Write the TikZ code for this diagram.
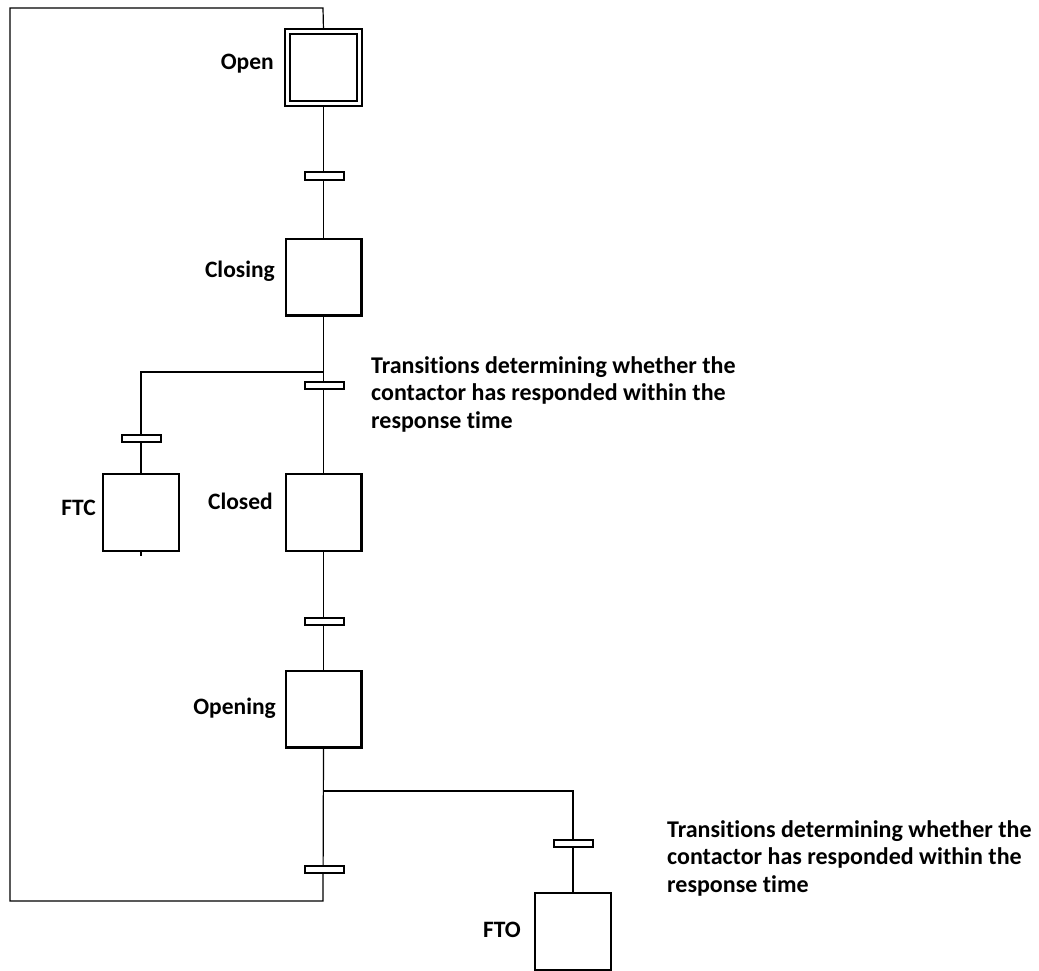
\documentclass[tikz,border=0pt]{standalone}
\usepackage{fontspec}
\setmainfont{Carlito}[Ligatures=NoCommon]
\begin{document}
\begin{tikzpicture}[x=1pt,y=-1pt,
  stepbox/.style={draw, line width=2.2pt, minimum width=75.8pt, minimum height=76.8pt, inner sep=0pt, fill=white},
  initbox/.style={draw, line width=2pt, double, double distance=3.5pt, minimum width=72pt, minimum height=72pt, inner sep=0pt, fill=white},
  bar/.style={draw, line width=2pt, fill=white, minimum width=39pt, minimum height=7pt, inner sep=0pt},
  wire/.style={line width=1.2pt},
  lbl/.style={font=\fontsize{23.5}{27}\selectfont\bfseries, anchor=east, inner sep=0pt},
  note/.style={font=\fontsize{24}{27.5}\selectfont\bfseries, anchor=north west, align=left, inner sep=0pt}]
\useasboundingbox (0,0) rectangle (1039,971);
% coordinates
\coordinate (tl) at (10,8);
\coordinate (tr) at (323,8);
\coordinate (bl) at (10,901);
\coordinate (bot) at (323,901);
\coordinate (br1) at (323,372);
\coordinate (br2) at (323,791);
\coordinate (ftcstub) at (141,556);
% steps
\node[initbox] (open) at (323.5,67.5) {};
\node[stepbox] (closing) at (323.5,277) {};
\node[stepbox] (closed) at (323.5,512.5) {};
\node[stepbox] (opening) at (323.5,709) {};
\node[stepbox] (ftc) at (141,512.5) {};
\node[stepbox] (fto) at (573,931.5) {};
% wires
\draw[wire] (open.south) -- (closing.north);
\draw[wire] (closing.south) -- (closed.north);
\draw[wire] (br1) -| (ftc.north);
\draw[wire] (ftc.south) -- (ftcstub);
\draw[wire] (closed.south) -- (opening.north);
\draw[wire] (opening.south) -- (bot) -- (bl) -- (tl) -- (tr) -- (open.north);
\draw[wire] (br2) -| (fto.north);
% redraw boxes over wires
\node[initbox] at (open) {};
\node[stepbox] at (closing) {};
\node[stepbox] at (closed) {};
\node[stepbox] at (opening) {};
\node[stepbox] at (ftc) {};
\node[stepbox] at (fto) {};
% transitions
\node[bar] (t1) at (324.5,176) {};
\node[bar] (t2) at (324.5,385.5) {};
\node[bar] (t3) at (141,438) {};
\node[bar] (t4) at (324.5,621) {};
\node[bar] (t5) at (324.5,869.5) {};
\node[bar] (t6) at (573.5,843.5) {};
% labels
\node[lbl] (lopen) at (274,64) {Open};
\node[lbl] (lclosing) at (275,271) {Closing};
\node[lbl] (lftc) at (96,508) {FTC};
\node[lbl] (lclosed) at (273,501) {Closed};
\node[lbl] (lopening) at (276,708) {Opening};
\node[lbl] (lfto) at (521,930) {FTO};
\node[note] (n1) at (371,356) {Transitions determining whether the\\contactor has responded within the\\response time};
\node[note] (n2) at (667,820) {Transitions determining whether the\\contactor has responded within the\\response time};
\end{tikzpicture}
\end{document}
